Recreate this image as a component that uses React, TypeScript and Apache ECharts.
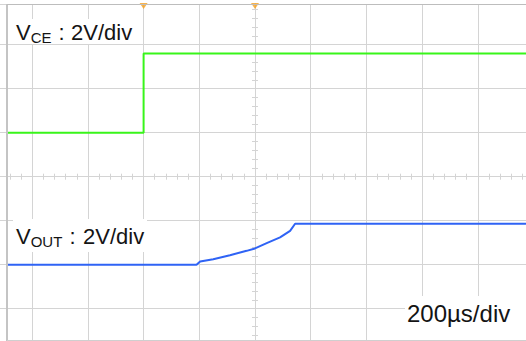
import React, { useEffect, useRef } from "react";
import * as echarts from "echarts";

// ---- data (read from the scope capture) ----
const TIME_PER_DIV_US = 200; // 200µs/div
const VOLTS_PER_DIV = 2; // 2V/div for both channels
const timeTicksUs = [-1000, -800, -600, -400, -200, 0, 200, 400, 600, 800, 1000];

// V_CE trace (green)
const vceTimeUs = [-890, -400, -400, 973];
const vceVolts = [0, 0, 3.6, 3.6];
const VCE_OFFSET_DIV = 1;

// V_OUT trace (blue)
const voutTimeUs = [-890, -210, -197, -150, -90, -30, 0, 42, 90, 126, 144, 973];
const voutVolts = [0, 0, 0.15, 0.25, 0.43, 0.63, 0.74, 0.98, 1.24, 1.54, 1.86, 1.86];
const VOUT_OFFSET_DIV = -2;

// trigger / position markers at top
const markerTimesUs = [-400, 0];

const labels = {
  vce: ["V", "CE", ":", "2V/div"],
  vout: ["V", "OUT", ":", "2V/div"],
  timebase: "200µs/div",
};

const Y_MIN = -4;
const Y_MAX = 3.925;

const GRID = "#d4d4d4";
const FONT = "'Liberation Sans', Arial, sans-serif";

function toDiv(volts: number[], offset: number) {
  return volts.map((v) => v / VOLTS_PER_DIV + offset);
}

export default function App() {
  const ref = useRef<HTMLDivElement>(null);
  useEffect(() => {
    if (!ref.current) return;
    const chart = echarts.init(ref.current, undefined, { renderer: "svg" });
    const vce = toDiv(vceVolts, VCE_OFFSET_DIV);
    const vout = toDiv(voutVolts, VOUT_OFFSET_DIV);

    const xBase = {
      type: "value",
      min: timeTicksUs[0],
      max: timeTicksUs[timeTicksUs.length - 1],
      interval: TIME_PER_DIV_US,
      axisLabel: { show: false },
      axisLine: { show: true, onZero: true, lineStyle: { color: GRID, width: 1 } },
    };
    const yBase = {
      type: "value",
      min: Y_MIN,
      max: Y_MAX,
      interval: 1,
      axisLabel: { show: false },
      axisLine: { show: true, onZero: true, lineStyle: { color: GRID, width: 1 } },
    };

    const textEl = (text: string, x: number, y: number, size: number) => ({
      type: "text",
      x,
      y,
      z: 60,
      style: {
        text,
        fontSize: size,
        fontFamily: FONT,
        fill: "#141414",
        verticalAlign: "middle",
        align: "left",
      },
    });

    chart.setOption({
      animation: false,
      backgroundColor: "#ffffff",
      grid: {
        left: -23.5,
        right: -7.5,
        top: 4,
        bottom: -11.7,
        containLabel: false,
        outerBoundsMode: "none",
      },
      xAxis: [
        {
          ...xBase,
          position: "bottom",
          splitLine: { show: true, lineStyle: { color: GRID, width: 1 } },
          axisTick: { show: true, inside: true, length: 3, lineStyle: { color: GRID } },
          minorTick: { show: true, splitNumber: 5, length: 3, lineStyle: { color: GRID } },
        },
        {
          ...xBase,
          position: "bottom",
          splitLine: { show: false },
          axisTick: { show: true, inside: false, length: 3, lineStyle: { color: GRID } },
          minorTick: { show: true, splitNumber: 5, length: 3, lineStyle: { color: GRID } },
        },
      ],
      yAxis: [
        {
          ...yBase,
          position: "left",
          splitLine: { show: true, lineStyle: { color: GRID, width: 1 } },
          axisTick: { show: true, inside: true, length: 3, lineStyle: { color: GRID } },
          minorTick: { show: true, splitNumber: 5, length: 3, lineStyle: { color: GRID } },
        },
        {
          ...yBase,
          position: "left",
          splitLine: { show: false },
          axisTick: { show: true, inside: false, length: 3, lineStyle: { color: GRID } },
          minorTick: { show: true, splitNumber: 5, length: 3, lineStyle: { color: GRID } },
        },
      ],
      series: [
        {
          name: "VCE",
          type: "line",
          data: vceTimeUs.map((t, i) => [t, vce[i]]),
          showSymbol: false,
          lineStyle: { color: "#38f51a", width: 2 },
          z: 5,
        },
        {
          name: "VOUT",
          type: "line",
          data: voutTimeUs.map((t, i) => [t, vout[i]]),
          showSymbol: false,
          lineStyle: { color: "#2f63f5", width: 2 },
          z: 5,
        },
        {
          name: "markers",
          type: "scatter",
          data: markerTimesUs.map((t) => [t, Y_MAX]),
          symbol: "triangle",
          symbolRotate: 180,
          symbolSize: [8, 6],
          symbolOffset: [0, 2],
          itemStyle: { color: "#f5a021" },
          z: 10,
        },
      ],
      graphic: [
        { type: "rect", z: 55, shape: { x: 6, y: 4, width: 2, height: 337 }, style: { fill: "#c4c4c4" } },
        { type: "line", z: 55, shape: { x1: 7, y1: 4.5, x2: 526, y2: 4.5 }, style: { stroke: "#bdbdbd", lineWidth: 1 } },
        { type: "line", z: 55, shape: { x1: 7, y1: 340.5, x2: 526, y2: 340.5 }, style: { stroke: "#cfcfcf", lineWidth: 1 } },
        { type: "rect", z: 58, shape: { x: 13, y: 19, width: 127, height: 25 }, style: { fill: "#ffffff" } },
        { type: "rect", z: 58, shape: { x: 13, y: 219, width: 134, height: 33 }, style: { fill: "#ffffff" } },
        { type: "rect", z: 58, shape: { x: 405, y: 296, width: 121, height: 44 }, style: { fill: "#ffffff" } },
        textEl(labels.vce[0], 16, 32, 22),
        textEl(labels.vce[1], 30.7, 37, 15),
        textEl(labels.vce[2], 58.5, 32, 22),
        textEl(labels.vce[3], 71, 32, 22),
        textEl(labels.vout[0], 16, 236, 22),
        textEl(labels.vout[1], 30.7, 241, 15),
        textEl(labels.vout[2], 69.5, 236, 22),
        textEl(labels.vout[3], 83, 236, 22),
        textEl(labels.timebase, 407, 313.5, 24),
      ],
    });
    return () => chart.dispose();
  }, []);
  return (
    <div
      ref={ref}
      style={{ position: "absolute", left: 0, top: 0, width: 526, height: 341 }}
    />
  );
}
